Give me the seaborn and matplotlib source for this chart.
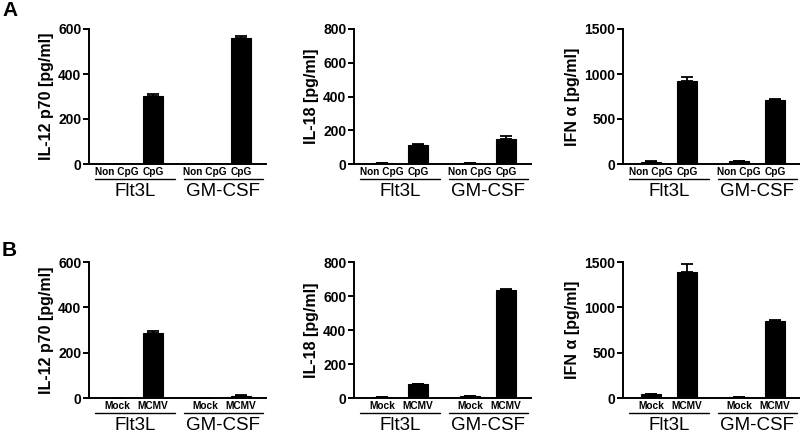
import matplotlib
matplotlib.use("Agg")
import matplotlib.pyplot as plt
import matplotlib.transforms as mtransforms
import seaborn as sns
import numpy as np

sns.set_style("ticks")
plt.rcParams['font.family'] = ['Liberation Sans', 'DejaVu Sans']
plt.rcParams.update({
    "text.color": "black", "axes.labelcolor": "black",
    "xtick.color": "black", "ytick.color": "black",
    "axes.edgecolor": "black",
})

# ---- data ----
groups = ["Flt3L", "GM-CSF"]
labels_a = ["Non CpG", "CpG", "Non CpG", "CpG"]
labels_b = ["Mock", "MCMV", "Mock", "MCMV"]

a_il12 = [2, 303, 0, 558]
a_il12_err = [0, 8, 0, 12]
a_il18 = [6, 115, 3, 148]
a_il18_err = [0, 4, 0, 16]
a_ifn = [25, 925, 28, 715]
a_ifn_err = [3, 45, 3, 8]

b_il12 = [0, 285, 0, 10]
b_il12_err = [0, 11, 0, 3]
b_il18 = [4, 81, 10, 637]
b_il18_err = [0, 3, 0, 4]
b_ifn = [40, 1390, 8, 850]
b_ifn_err = [3, 85, 0, 10]

ylabels = ["IL-12 p70 [pg/ml]", "IL-18 [pg/ml]", "IFN \u03b1 [pg/ml]"]
ylims = [600, 800, 1500]
yticks = [[0, 200, 400, 600], [0, 200, 400, 600, 800], [0, 500, 1000, 1500]]

positions = [0, 1, 2.45, 3.45]

rows = [
    ([a_il12, a_il18, a_ifn], [a_il12_err, a_il18_err, a_ifn_err], labels_a),
    ([b_il12, b_il18, b_ifn], [b_il12_err, b_il18_err, b_ifn_err], labels_b),
]

W, H = 800, 432
fig = plt.figure(figsize=(8, 4.32), dpi=100)

col_left = [89, 354, 623]
ax_w = 177
row_top = [29, 262]
row_bot = [164, 398]

for r, (vals_list, errs_list, catlabels) in enumerate(rows):
    for c in range(3):
        ax_h = row_bot[r] - row_top[r]
        ax = fig.add_axes([col_left[c] / W, 1 - row_bot[r] / H, ax_w / W,
                           ax_h / H])
        vals = vals_list[c]
        errs = errs_list[c]
        sns.barplot(x=positions, y=vals, native_scale=True, color="black",
                    width=0.56, errorbar=None, ax=ax, edgecolor="black",
                    linewidth=0.8, saturation=1)
        ax.errorbar(positions, vals, yerr=[np.zeros(len(errs)), errs],
                    fmt="none", ecolor="black", elinewidth=1.3, capsize=4,
                    capthick=1.3)
        ax.set_xlim(-0.78, 4.14)
        ax.set_ylim(0, ylims[c])
        ax.set_yticks(yticks[c])
        ax.set_yticklabels([str(t) for t in yticks[c]], fontsize=10,
                           fontweight="bold")
        ax.set_xticks(positions)
        ax.set_xticklabels(catlabels, fontsize=7.3, fontweight="bold")
        ax.tick_params(axis="x", length=0, pad=2.5)
        ax.tick_params(axis="y", length=4, width=1.4, pad=1.5)
        ax.set_ylabel(ylabels[c], fontsize=11.5, fontweight="bold", labelpad=3)
        ax.set_xlabel("")
        for s in ["top", "right"]:
            ax.spines[s].set_visible(False)
        for s in ["left", "bottom"]:
            ax.spines[s].set_linewidth(1.4)
        trans = mtransforms.blended_transform_factory(ax.transData, ax.transAxes)
        line_y = -15 / ax_h
        text_y = -18.5 / ax_h
        for g, gname in enumerate(groups):
            center = (positions[2 * g] + positions[2 * g + 1]) / 2
            ax.plot([center - 1.1, center + 1.1], [line_y, line_y],
                    color="black", lw=1.0, transform=trans, clip_on=False)
            ax.text(center, text_y, gname, transform=trans, ha="center",
                    va="top", fontsize=13.5)

fig.text(2 / W, 1 - 10 / H, "A", fontsize=15, fontweight="bold",
         ha="left", va="center")
fig.text(2 / W, 1 - 250 / H, "B", fontsize=15, fontweight="bold",
         ha="left", va="center")

fig.savefig("out.png", dpi=100)
